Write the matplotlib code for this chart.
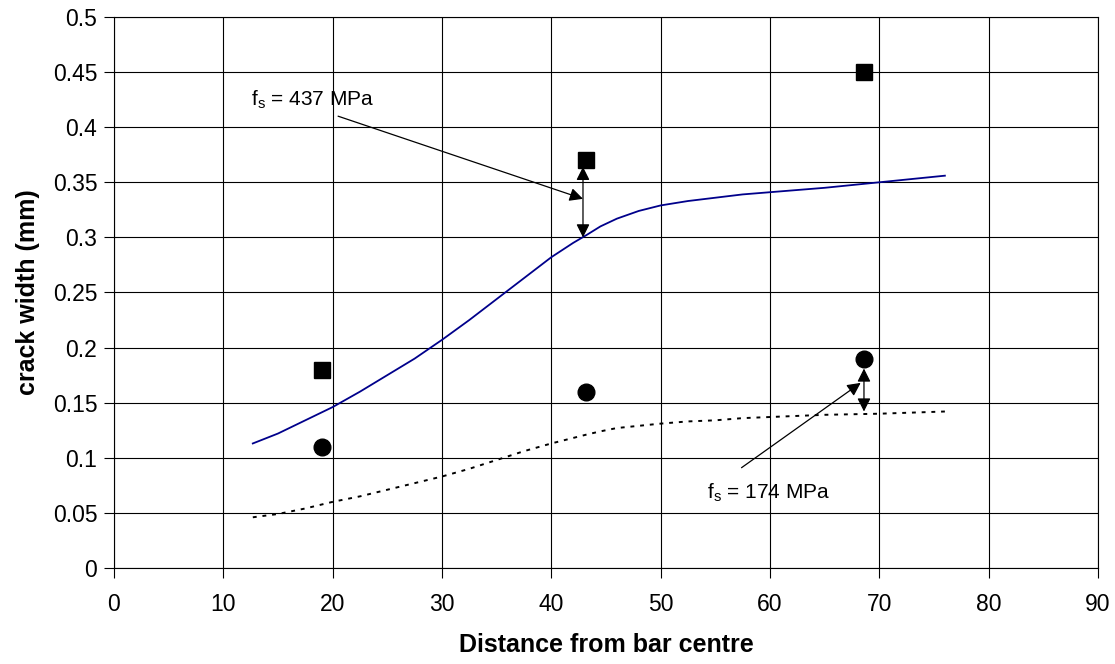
import matplotlib
matplotlib.use('Agg')
import matplotlib.pyplot as plt

plt.rcParams['font.family'] = ['Liberation Sans', 'DejaVu Sans']
plt.rcParams['mathtext.fontset'] = 'custom'
plt.rcParams['mathtext.rm'] = 'Liberation Sans'

# 측정값 (square: fs=437, circle: fs=174)
pos = [19.0, 43.2, 68.6]
sq_vals = [0.18, 0.37, 0.45]
ci_vals = [0.11, 0.16, 0.19]

# 예측 곡선
curve_x = [12.7, 15, 17.5, 20, 22.5, 25, 27.5, 30, 32.5, 35, 37.5, 40, 42,
           43.2, 44.5, 46, 48, 50, 52.5, 55, 57.5, 60, 65, 70, 76]
curve_hi = [0.113, 0.122, 0.134, 0.146, 0.160, 0.175, 0.190, 0.207, 0.225,
            0.244, 0.263, 0.282, 0.295, 0.302, 0.310, 0.317, 0.324, 0.329,
            0.333, 0.336, 0.339, 0.341, 0.345, 0.350, 0.356]
curve_lo = [0.046, 0.049, 0.054, 0.060, 0.065, 0.071, 0.077, 0.083, 0.090,
            0.098, 0.106, 0.113, 0.118, 0.121, 0.124, 0.127, 0.129, 0.131,
            0.133, 0.134, 0.136, 0.137, 0.139, 0.140, 0.142]

fig = plt.figure(figsize=(11.15, 6.64), dpi=100)
ax = fig.add_axes([0.1022, 0.1446, 0.8825, 0.8298])

ax.plot(curve_x, curve_hi, color='#00008B', lw=1.3, zorder=3)
ax.plot(curve_x, curve_lo, color='black', lw=1.4, ls=(0, (2, 3)), zorder=3)
ax.plot(pos, sq_vals, 's', color='black', ms=11.5, ls='none', zorder=4)
ax.plot(pos, ci_vals, 'o', color='black', ms=12, ls='none', zorder=4)

# 화살표
arr2 = dict(arrowstyle='<|-|>', color='black', lw=0.9,
            mutation_scale=20, shrinkA=0, shrinkB=0)
arr1 = dict(arrowstyle='-|>', color='black', lw=0.9,
            mutation_scale=20, shrinkA=0, shrinkB=0)
ax.annotate('', xy=(42.9, 0.300), xytext=(42.9, 0.364), arrowprops=arr2)
ax.annotate('', xy=(68.6, 0.142), xytext=(68.6, 0.181), arrowprops=arr2)
ax.annotate('', xy=(42.9, 0.335), xytext=(20.5, 0.410), arrowprops=arr1)
ax.annotate('', xy=(68.3, 0.168), xytext=(57.4, 0.091), arrowprops=arr1)
ax.text(12.5, 0.425, 'f$_\\mathrm{s}$ = 437 MPa', fontsize=15, va='center')
ax.text(54.2, 0.068, 'f$_\\mathrm{s}$ = 174 MPa', fontsize=15, va='center')

ax.set_xlim(0, 90)
ax.set_ylim(0, 0.5)
ax.set_xticks(range(0, 91, 10))
ax.set_yticks([i * 0.05 for i in range(11)])
ax.set_yticklabels(['0', '0.05', '0.1', '0.15', '0.2', '0.25', '0.3',
                    '0.35', '0.4', '0.45', '0.5'])
ax.grid(True, color='black', lw=0.8)
ax.set_axisbelow(True)
for s in ax.spines.values():
    s.set_color('black')
    s.set_linewidth(0.8)
ax.tick_params(direction='out', length=7, width=0.8, labelsize=16.5, pad=5)
ax.tick_params(axis='x', pad=11)
ax.set_xlabel('Distance from bar centre', fontsize=18, fontweight='bold', labelpad=12)
ax.set_ylabel('crack width (mm)', fontsize=18, fontweight='bold', labelpad=9)

fig.savefig('out.png', dpi=100)
